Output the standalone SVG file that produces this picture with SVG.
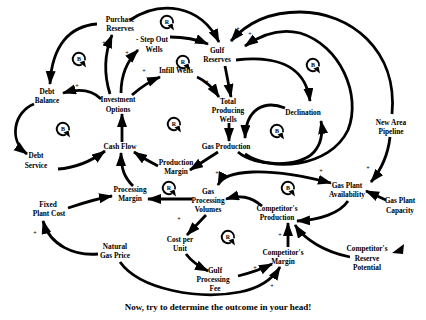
<svg xmlns="http://www.w3.org/2000/svg" xmlns:xlink="http://www.w3.org/1999/xlink" width="426" height="320" viewBox="0 0 426 320">
<style>
.t{font-family:"Liberation Serif","DejaVu Serif",serif;font-weight:bold;font-size:7.3px;text-anchor:middle;fill:#000}
.s{font-family:"Liberation Serif",serif;font-weight:bold;font-size:6px;text-anchor:middle;fill:#000}
.lt{font-family:"Liberation Serif",serif;font-weight:bold;font-size:6px;text-anchor:middle;fill:#000}
.c{fill:none;stroke:#000;stroke-width:2.8;marker-end:url(#ah)}
.ttl{font-family:"Liberation Serif","DejaVu Serif",serif;font-weight:bold;font-size:9px;text-anchor:middle;fill:#000}
</style>
<defs>
<marker id="ah" markerUnits="userSpaceOnUse" markerWidth="14" markerHeight="11" refX="13" refY="5" orient="auto"><path d="M0,0 L14,5 L0,10 z" fill="#000"/></marker>
<marker id="as" markerUnits="userSpaceOnUse" markerWidth="14" markerHeight="11" refX="13" refY="5" orient="auto-start-reverse"><path d="M0,0 L14,5 L0,10 z" fill="#000"/></marker>
<g id="loop"><path d="M6,1.2 A6.2,6.2 0 1,0 2.8,5.5" fill="none" stroke="#000" stroke-width="1.9"/><path d="M0.5,3.5 L7,8.5 L5.5,1.5 z" fill="#000"/></g>
</defs>
<rect width="426" height="320" fill="#fff"/>

<g id="connectors">
<path class="c" d="M130,20 C160,0 200,4 219,42"/>
<path class="c" d="M170,37 C185,37 196,39 208,44"/>
<path class="c" d="M392,114 C398,50 350,12 300,12 C265,12 245,25 231,41"/>
<path class="c" d="M245,154 C270,172 330,168 348,130 C362,95 340,45 300,33 C280,28 262,34 245,46"/>
<path class="c" d="M238,152 C255,167 300,168 314,152 C322,143 323,133 321,121"/>
<path class="c" d="M285,108 C265,100 246,108 245,138"/>
<path class="c" d="M236,60 C270,56 305,62 310,101"/>
<path class="c" d="M225,66 L231,97"/>
<path class="c" d="M197,77 C206,81 213,88 219,97"/>
<path class="c" d="M229,123 L229,141"/>
<path class="c" d="M132,95 C140,88 148,82 160,77"/>
<path class="c" d="M121,93 C121,75 126,62 138,50"/>
<path class="c" d="M110,94 C104,75 104,55 112,35"/>
<path class="c" d="M97,24 C70,26 52,45 50,84"/>
<path class="c" d="M101,99 C92,90 80,88 63,93"/>
<path class="c" d="M34,104 C14,112 8,140 27,154"/>
<path class="c" d="M58,169 C75,168 90,162 105,151"/>
<path class="c" d="M122,142 L122,114"/>
<path class="c" d="M158,166 C150,162 143,158 134,152"/>
<path class="c" d="M133,186 C125,178 121,170 121,153"/>
<path class="c" d="M218,152 L190,170"/>
<path class="c" d="M218,185 C225,170 265,166 331,183" style="marker-start:url(#as)"/>
<path class="c" d="M262,206 C250,196 240,195 226,199"/>
<path class="c" d="M192,199 L148,199"/>
<path class="c" d="M386,200 L366,191"/>
<path class="c" d="M390,137 C388,155 381,170 371,182"/>
<path class="c" d="M348,201 C340,213 320,220 297,221"/>
<path class="c" d="M350,257 C325,252 305,240 295,225"/>
<path class="c" d="M288,247 L288,223"/>
<path class="c" d="M238,276 C250,273 260,270 272,264"/>
<path class="c" d="M120,262 C140,290 200,300 240,292 C260,288 272,280 280,267"/>
<path class="c" d="M98,254 C75,256 50,246 43,221"/>
<path class="c" d="M68,208 C80,204 95,199 112,196"/>
<path class="c" d="M206,215 L187,235"/>
<path class="c" d="M186,254 C192,262 198,266 208,271"/>
<polygon points="392,253 404,244 403,254" fill="#000"/>
</g>

<g id="loops">
<use xlink:href="#loop" x="167" y="22"/><text class="lt" x="167" y="24">R</text>
<use xlink:href="#loop" x="79" y="59"/><text class="lt" x="79" y="61">B</text>
<use xlink:href="#loop" x="183" y="62"/><text class="lt" x="183" y="64">R</text>
<use xlink:href="#loop" x="313" y="65"/><text class="lt" x="313" y="67">B</text>
<use xlink:href="#loop" x="63" y="129"/><text class="lt" x="63" y="131">B</text>
<use xlink:href="#loop" x="174" y="124"/><text class="lt" x="174" y="126">R</text>
<use xlink:href="#loop" x="277" y="131"/><text class="lt" x="277" y="133">B</text>
<use xlink:href="#loop" x="169" y="188"/><text class="lt" x="169" y="190">R</text>
<use xlink:href="#loop" x="288" y="188"/><text class="lt" x="288" y="190">B</text>
<use xlink:href="#loop" x="228" y="237"/><text class="lt" x="228" y="239">R</text>
</g>

<g id="signs">
<text class="s" x="104" y="45">+</text>
<text class="s" x="127" y="55">+</text>
<text class="s" x="144" y="73">+</text>
<text class="s" x="77" y="88">+</text>
<text class="s" x="238" y="31">+</text>
<text class="s" x="250" y="36">+</text>
<text class="s" x="207" y="84">+</text>
<text class="s" x="217" y="175">+</text>
<text class="s" x="179" y="221">+</text>
<text class="s" x="35" y="235">+</text>
<text class="s" x="280" y="237">+</text>
<text class="s" x="255" y="270">+</text>
<text class="s" x="272" y="288">+</text>
<text class="s" x="368" y="170">+</text>
<text class="s" x="321" y="173">+</text>
</g>

<g id="purchase-reserves"><text class="t" x="120" y="22">Purchase</text><text class="t" x="120" y="31">Reserves</text></g>
<g id="step-out-wells"><text class="t" x="152" y="42">- Step Out</text><text class="t" x="154" y="52">Wells</text></g>
<g id="infill-wells"><text class="t" x="176" y="73">Infill Wells</text></g>
<g id="gulf-reserves"><text class="t" x="217" y="53">Gulf</text><text class="t" x="217" y="62">Reserves</text></g>
<g id="debt-balance"><text class="t" x="47" y="94">Debt</text><text class="t" x="47" y="103">Balance</text></g>
<g id="investment-options"><text class="t" x="118" y="102">Investment</text><text class="t" x="118" y="112">Options</text></g>
<g id="total-producing-wells"><text class="t" x="228" y="104">Total</text><text class="t" x="228" y="113">Producing</text><text class="t" x="228" y="122">Wells</text></g>
<g id="declination"><text class="t" x="303" y="115">Declination</text></g>
<g id="new-area-pipeline"><text class="t" x="391" y="125">New Area</text><text class="t" x="391" y="134">Pipeline</text></g>
<g id="cash-flow"><text class="t" x="120" y="149">Cash Flow</text></g>
<g id="gas-production"><text class="t" x="226" y="149">Gas Production</text></g>
<g id="debt-service"><text class="t" x="36" y="158">Debt</text><text class="t" x="36" y="168">Service</text></g>
<g id="production-margin"><text class="t" x="176" y="165">Production</text><text class="t" x="176" y="174">Margin</text></g>
<g id="processing-margin"><text class="t" x="130" y="192">Processing</text><text class="t" x="130" y="201">Margin</text></g>
<g id="gas-processing-volumes"><text class="t" x="208" y="194">Gas</text><text class="t" x="208" y="203">Processing</text><text class="t" x="208" y="212">Volumes</text></g>
<g id="competitors-production"><text class="t" x="277" y="211">Competitor's</text><text class="t" x="277" y="220">Production</text></g>
<g id="gas-plant-availability"><text class="t" x="347" y="188">Gas Plant</text><text class="t" x="347" y="197">Availability</text></g>
<g id="gas-plant-capacity"><text class="t" x="400" y="203">Gas Plant</text><text class="t" x="400" y="213">Capacity</text></g>
<g id="fixed-plant-cost"><text class="t" x="48" y="207">Fixed</text><text class="t" x="49" y="216">Plant Cost</text></g>
<g id="natural-gas-price"><text class="t" x="115" y="249">Natural</text><text class="t" x="115" y="258">Gas Price</text></g>
<g id="cost-per-unit"><text class="t" x="180" y="242">Cost per</text><text class="t" x="180" y="251">Unit</text></g>
<g id="competitors-margin"><text class="t" x="283" y="255">Competitor's</text><text class="t" x="283" y="264">Margin</text></g>
<g id="competitors-reserve-potential"><text class="t" x="367" y="251">Competitor's</text><text class="t" x="367" y="261">Reserve</text><text class="t" x="367" y="270">Potential</text></g>
<g id="gulf-processing-fee"><text class="t" x="215" y="273">Gulf</text><text class="t" x="213" y="282">Processing</text><text class="t" x="215" y="291">Fee</text></g>
<text class="ttl" x="218" y="310">Now, try to determine the outcome in your head!</text>
</svg>
